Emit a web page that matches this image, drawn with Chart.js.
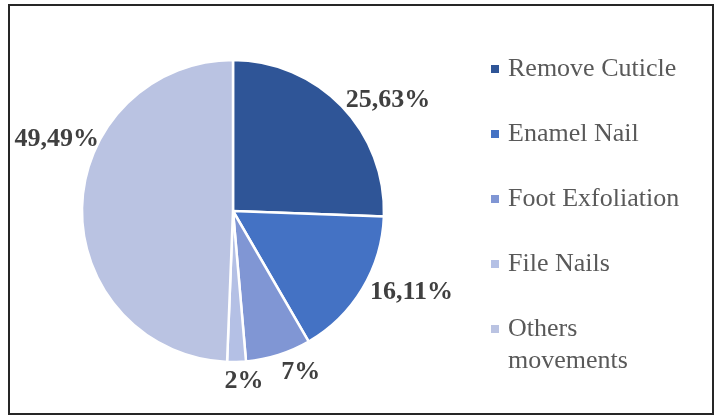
<!DOCTYPE html>
<html>
<head>
<meta charset="utf-8">
<script src="https://cdn.jsdelivr.net/npm/chart.js@4.4.1/dist/chart.umd.min.js"></script>
<style>
  html, body { margin: 0; padding: 0; background: #fff; }
  #wrap { position: relative; width: 718px; height: 417px; }
  #frame {
    position: absolute; left: 8px; top: 4px; width: 706px; height: 411px;
    box-sizing: border-box; border: 2px solid #262626; pointer-events: none;
  }
  #legend {
    position: absolute; left: 491px; top: 52px;
    font-family: "Liberation Serif", "Times New Roman", serif;
    font-size: 26px; line-height: 32px; color: #595959;
  }
  .item { position: relative; padding-left: 17px; width: 182px; margin-bottom: 33px; }
  .item span.box { position: absolute; left: 0; top: 13px; width: 8px; height: 8px; }
</style>
</head>
<body>
<div id="wrap">
  <canvas id="chart" width="718" height="417"></canvas>
  <div id="legend"></div>
  <div id="frame"></div>
</div>
<script>
const labels = ["Remove Cuticle", "Enamel Nail", "Foot Exfoliation", "File Nails", "Others movements"];
const values = [25.63, 16.11, 7, 2, 49.49];
const valueText = ["25,63%", "16,11%", "7%", "2%", "49,49%"];
const colors = ["#2F5597", "#4472C4", "#8096D4", "#B4C0E5", "#BAC3E2"];

// nudges for labels the way they were dragged in the original
const labelNudge = [[2, 5], [5, -7], [2, 5], [-12, 7], [20, -60]];

const outsideLabels = {
  id: "outsideLabels",
  afterDatasetsDraw(chart) {
    const ctx = chart.ctx;
    const arcs = chart.getDatasetMeta(0).data;
    ctx.save();
    ctx.font = "bold 26px 'Liberation Serif', 'Times New Roman', serif";
    ctx.fillStyle = "#404040";
    ctx.textAlign = "center";
    ctx.textBaseline = "middle";
    arcs.forEach((arc, i) => {
      const p = arc.getProps(["x", "y", "startAngle", "endAngle", "outerRadius"], true);
      const mid = (p.startAngle + p.endAngle) / 2;
      const r = p.outerRadius + 3;
      const ax = p.x + Math.cos(mid) * r;
      const ay = p.y + Math.sin(mid) * r;
      const w = ctx.measureText(valueText[i]).width;
      const h = 18;
      const x = ax + (Math.cos(mid) >= 0 ? w / 2 : -w / 2) + labelNudge[i][0];
      const y = ay + (Math.sin(mid) >= 0 ? h / 2 : -h / 2) + labelNudge[i][1];
      ctx.fillText(valueText[i], x, y);
    });
    ctx.restore();
  }
};

const chart = new Chart(document.getElementById("chart"), {
  type: "pie",
  data: {
    labels: labels,
    datasets: [{
      data: values,
      backgroundColor: colors,
      borderColor: "#ffffff",
      borderWidth: 2.5
    }]
  },
  options: {
    responsive: false,
    animation: false,
    radius: 151,
    layout: { padding: { left: 80, right: 332, top: 58, bottom: 53 } },
    plugins: {
      legend: { display: false },
      tooltip: { enabled: false }
    }
  },
  plugins: [outsideLabels]
});

// legend built from the chart data
const legendEl = document.getElementById("legend");
chart.data.labels.forEach((lab, i) => {
  const item = document.createElement("div");
  item.className = "item";
  const box = document.createElement("span");
  box.className = "box";
  box.style.background = chart.data.datasets[0].backgroundColor[i];
  item.appendChild(box);
  item.appendChild(document.createTextNode(lab));
  legendEl.appendChild(item);
});
</script>
</body>
</html>
